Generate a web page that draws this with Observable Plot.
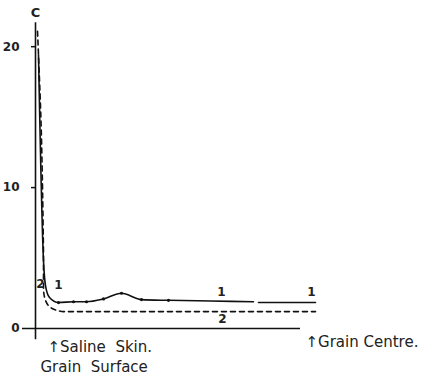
<!DOCTYPE html>
<html><head><meta charset="utf-8">
<script src="https://cdn.jsdelivr.net/npm/d3@7"></script>
<script src="https://cdn.jsdelivr.net/npm/@observablehq/plot@0.6"></script>
<style>body{margin:0;background:#fff}</style>
</head><body><div id="chart"></div>
<script>
// Curve 1 (solid), split into two segments (break near the centre)
const curve1Seg = [0,0,0,0,0,0,0,0,0,0,0,0,0,1,1];
const curve1X = [3, 8, 10, 14, 23, 38, 51, 68, 86, 106, 133, 175, 218, 223, 280];
const curve1Y = [19.4, 4.8, 3.05, 2.2, 1.84, 1.9, 1.9, 2.1, 2.5, 2.05, 2.0, 1.95, 1.9, 1.84, 1.84];
const curve1Dots = [23, 38, 51, 68, 86, 106, 133];
// Curve 2 (dashed)
const curve2X = [2, 3, 8, 8, 10, 15, 22, 28, 83, 148, 218, 280];
const curve2Y = [21.1, 19.4, 5.3, 2.7, 2.0, 1.5, 1.28, 1.2, 1.2, 1.2, 1.2, 1.2];
// Curve labels
const labelText = ["1", "1", "1", "2", "2"];
const labelX = [23, 186, 276, 5, 187];
const labelY = [3.05, 2.6, 2.55, 3.15, 0.65];
const yTicks = [0, 10, 20];

const c1 = curve1X.map((x, i) => ({x, y: curve1Y[i], s: curve1Seg[i]}));
const c1dots = c1.filter(d => curve1Dots.includes(d.x));
const c2 = curve2X.map((x, i) => ({x, y: curve2Y[i]}));
const labs = labelText.map((t, i) => ({t, x: labelX[i], y: labelY[i]}));
const font = "'DejaVu Sans', sans-serif";

const plot = Plot.plot({
  width: 433, height: 378,
  marginLeft: 35, marginRight: 118, marginTop: 18, marginBottom: 50,
  x: {domain: [0, 280], axis: null},
  y: {domain: [0, 22], axis: null},
  style: {fontFamily: font, background: "#fff", color: "#111"},
  marks: [
    Plot.ruleY([0], {x1: -13, x2: 265, stroke: "#111", strokeWidth: 1.5}),
    Plot.ruleX([0], {y1: -0.8, y2: 21.7, stroke: "#111", strokeWidth: 1.6}),
    Plot.ruleY(yTicks.filter(d => d > 0), {y: d => d, x1: -4, x2: 1, stroke: "#111", strokeWidth: 1.5}),
    Plot.text(yTicks, {x: 0, y: d => d, text: d => String(d), dx: -16, textAnchor: "end", fontSize: 12, fontWeight: "bold", fill: "#222", clip: false}),
    Plot.text(["C"], {x: 0, y: 22, dy: -6, text: d => d, fontSize: 13, fontWeight: "bold", fill: "#222", clip: false}),
    Plot.line(c2, {x: "x", y: "y", stroke: "#111", strokeWidth: 1.6, strokeDasharray: "5,4", curve: "monotone-x"}),
    Plot.line(c1, {x: "x", y: "y", z: "s", stroke: "#111", strokeWidth: 1.6, curve: "monotone-x"}),
    Plot.dot(c1dots, {x: "x", y: "y", r: 1.6, fill: "#111"}),
    Plot.text(labs, {x: "x", y: "y", text: "t", fontSize: 12, fontWeight: "bold", fill: "#222"}),
    Plot.text(["↑Saline  Skin."], {x: 12, y: 0, dy: 19, text: d => d, textAnchor: "start", fontSize: 15, fill: "#222", clip: false}),
    Plot.text(["Grain  Surface"], {x: 5, y: 0, dy: 39, text: d => d, textAnchor: "start", fontSize: 15, fill: "#222", clip: false}),
    Plot.text(["↑Grain Centre."], {x: 270, y: 0, dy: 14, text: d => d, textAnchor: "start", fontSize: 15, fill: "#222", clip: false})
  ]
});
document.getElementById("chart").appendChild(plot);
</script>
</body></html>
